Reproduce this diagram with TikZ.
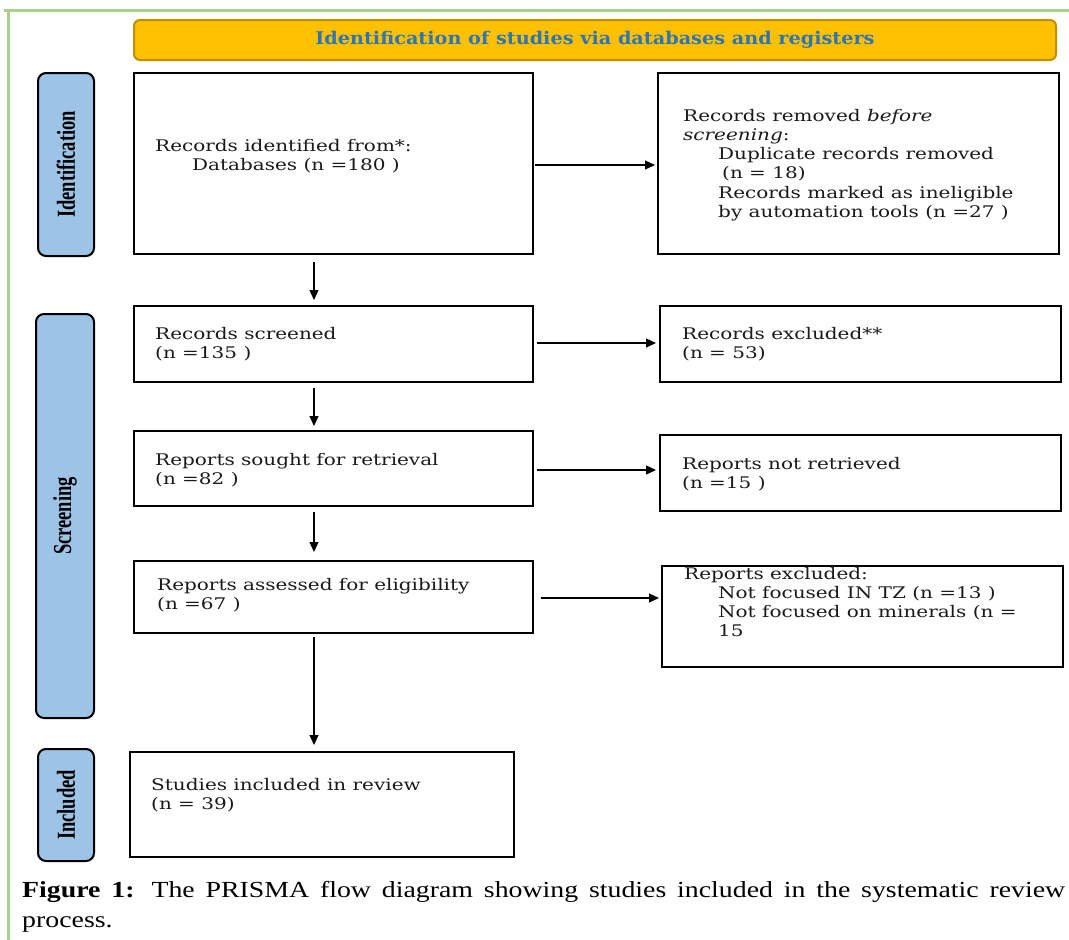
\documentclass[tikz,border=0pt]{standalone}
\usepackage{fontspec}
\usepackage{graphicx}
\setmainfont{DejaVu Serif}
\newfontfamily\boxfont[FakeStretch=1.25]{DejaVu Serif}
\newfontfamily\headfont[FakeStretch=1.1]{DejaVu Serif}
\newfontfamily\sidefont{Liberation Serif}
\newfontfamily\capfont[FakeStretch=1.21]{Liberation Serif}
\usetikzlibrary{arrows.meta}
\definecolor{frameg}{HTML}{A9D18E}
\definecolor{headfill}{HTML}{FFC000}
\definecolor{headdraw}{HTML}{BF9000}
\definecolor{headtext}{HTML}{2E75B6}
\definecolor{sidefill}{HTML}{9DC3E6}
\definecolor{boxtext}{HTML}{1A1A1A}
\tikzset{
  box/.style={draw=black, line width=2pt, anchor=north west, inner sep=0pt},
  side/.style={draw=black, line width=2pt, fill=sidefill, rounded corners=8pt, anchor=north west, inner sep=0pt},
  sidetext/.style={font=\sidefont\bfseries\fontsize{18.5}{18.5}\selectfont},
  btxt/.style={anchor=north west, inner sep=0pt, align=left, text=boxtext, font=\boxfont\fontsize{16}{19.2}\selectfont},
  arr/.style={-{Triangle[length=10pt,width=9pt]}, line width=1.2pt},
}
\begin{document}
\begin{tikzpicture}[x=1pt,y=-1pt]
\useasboundingbox (0,0) rectangle (1069,940);
% green frame
\draw[frameg, line width=3pt] (4,10) -- (1069,10);
\draw[frameg, line width=3pt] (8,10) -- (8,940);
% header
\node[draw=headdraw, fill=headfill, line width=2pt, rounded corners=6pt, anchor=north west,
      minimum width=922pt, minimum height=40pt, inner sep=0pt,
      font=\headfont\bfseries\fontsize{17.5}{17.5}\selectfont, text=headtext] (head) at (133,19)
      {Identification of studies via databases and registers};
% side labels
\node[side, minimum width=56pt, minimum height=183pt, sidetext] (s1) at (37,72)
  {\rotatebox{90}{\scalebox{1}[1.4]{Identification}}};
\node[side, minimum width=58pt, minimum height=404pt, sidetext] (s2) at (35,313)
  {\rotatebox{90}{\scalebox{1}[1.4]{Screening}}};
\node[side, minimum width=56pt, minimum height=112pt, sidetext] (s3) at (37,748)
  {\rotatebox{90}{\scalebox{1}[1.4]{Included}}};
% boxes
\node[box, minimum width=399pt, minimum height=181pt] (b1) at (133,72) {};
\node[box, minimum width=401pt, minimum height=181pt] (b2) at (657,72) {};
\node[box, minimum width=399pt, minimum height=76pt] (b3) at (133,305) {};
\node[box, minimum width=401pt, minimum height=76pt] (b4) at (659,305) {};
\node[box, minimum width=399pt, minimum height=75pt] (b5) at (133,430) {};
\node[box, minimum width=401pt, minimum height=76pt] (b6) at (659,434) {};
\node[box, minimum width=399pt, minimum height=72pt] (b7) at (133,560) {};
\node[box, minimum width=401pt, minimum height=101pt] (b8) at (661,565) {};
\node[box, minimum width=384pt, minimum height=105pt] (b9) at (129,751) {};
% texts
\node[btxt] (t1) at (155,139) {Records identified from*:\\\hspace*{37pt}Databases (n =180 )};
\node[btxt] (t2) at (683,109) {Records removed \emph{before}\\\emph{screening}:\\
  \hspace*{35pt}Duplicate records removed\\\hspace*{39pt}(n = 18)\\
  \hspace*{35pt}Records marked as ineligible\\\hspace*{35pt}by automation tools (n =27 )};
\node[btxt] (t3) at (155,327) {Records screened\\(n =135 )};
\node[btxt] (t4) at (682,327) {Records excluded**\\(n = 53)};
\node[btxt] (t5) at (155,453) {Reports sought for retrieval\\(n =82 )};
\node[btxt] (t6) at (682,457) {Reports not retrieved\\(n =15 )};
\node[btxt] (t7) at (157,578) {Reports assessed for eligibility\\(n =67 )};
\node[btxt] (t8) at (684,567) {Reports excluded:\\\hspace*{34pt}Not focused IN TZ (n =13 )\\
  \hspace*{34pt}Not focused on minerals (n =\\\hspace*{34pt}15};
\node[btxt] (t9) at (151,778) {Studies included in review\\(n = 39)};
% arrows
\coordinate (v1) at (314,262);
\coordinate (v2) at (314,388);
\coordinate (v3) at (314,512);
\coordinate (v4) at (314,637);
\draw[arr, shorten >=5pt] (v1) -- (v1 |- b3.north);
\draw[arr, shorten >=4pt] (v2) -- (v2 |- b5.north);
\draw[arr, shorten >=8pt] (v3) -- (v3 |- b7.north);
\draw[arr, shorten >=6pt] (v4) -- (v4 |- b9.north);
\coordinate (h1) at (535,165);
\coordinate (h2) at (537,343);
\coordinate (h3) at (537,470);
\coordinate (h4) at (541,598);
\draw[arr, shorten >=2pt] (h1) -- (h1 -| b2.west);
\draw[arr, shorten >=3pt] (h2) -- (h2 -| b4.west);
\draw[arr, shorten >=3pt] (h3) -- (h3 -| b6.west);
\draw[arr, shorten >=2pt] (h4) -- (h4 -| b8.west);
% caption
\node[anchor=base west, inner sep=0pt, font=\capfont\fontsize{23}{30}\selectfont] (cap1) at (22,897)
  {\makebox[1043pt][s]{\textbf{Figure 1:} The PRISMA flow diagram showing studies included in the systematic review}};
\node[anchor=base west, inner sep=0pt, font=\capfont\fontsize{23}{30}\selectfont] (cap2) at (22,927) {process.};
\end{tikzpicture}
\end{document}
